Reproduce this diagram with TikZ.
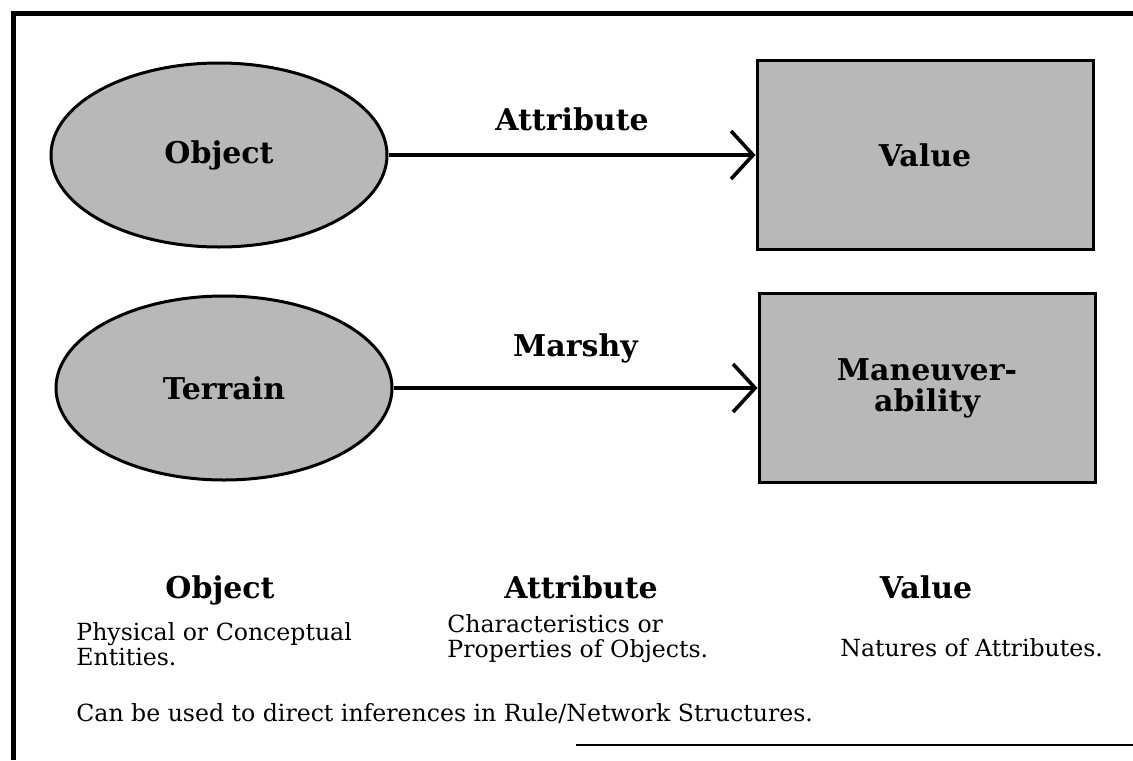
\documentclass[tikz,border=0pt]{standalone}
\usepackage{fontspec}
\setmainfont{DejaVu Serif}
\usetikzlibrary{shapes.geometric,arrows.meta}
\begin{document}
\begin{tikzpicture}[x=0.5pt, y=-0.5pt,
	shade/.style={draw, line width=1.5pt, fill=black!28, align=center,
		font=\bfseries\fontsize{15}{15.5}\selectfont},
	obj/.style={shade, ellipse, minimum width=168pt, minimum height=92pt, inner sep=0pt},
	val/.style={shade, rectangle, minimum width=168pt, minimum height=94.5pt},
	link/.style={line width=1.8pt, -{Straight Barb[length=11pt, width=24pt]}},
	head/.style={font=\bfseries\fontsize{15}{16}\selectfont},
	desc/.style={align=left, inner sep=0pt, font=\fontsize{11.8}{12.8}\selectfont}]
	\useasboundingbox (0,0) rectangle (1133,760);
	% frame
	\draw[line width=2.5pt] (13,760) -- (13,13) -- (1133,13);
	\draw[line width=1.2pt] (576,745) -- (1133,745);
	% top row
	\draw (219,155) node[obj] (O1) {Object};
	\draw (925,155) node[val] (V1) {Value};
	\draw[link] (O1.east) -- (V1.west) node[midway, above=8pt, head] (A1) {Attribute};
	% example row
	\draw (224,388) node[obj] (O2) {Terrain};
	\draw (927,388) node[val] (V2) {Maneuver-\\ability};
	\draw[link] (O2.east) -- (V2.west) node[midway, above=8pt, head] (A2) {Marshy};
	% legend
	\draw (220,598) node[head, anchor=base] (HO) {Object};
	\draw (581,598) node[head, anchor=base] (HA) {Attribute};
	\draw (926,598) node[head, anchor=base] (HV) {Value};
	\draw (76,622) node[desc, anchor=north west] (DO) {Physical or Conceptual\\Entities.};
	\draw (447,614) node[desc, anchor=north west] (DA) {Characteristics or\\Properties of Objects.};
	\draw (840,656) node[desc, anchor=base west] (DV) {Natures of Attributes.};
	\draw (76,721) node[desc, anchor=base west] (NOTE) {Can be used to direct inferences in Rule/Network Structures.};
\end{tikzpicture}
\end{document}
